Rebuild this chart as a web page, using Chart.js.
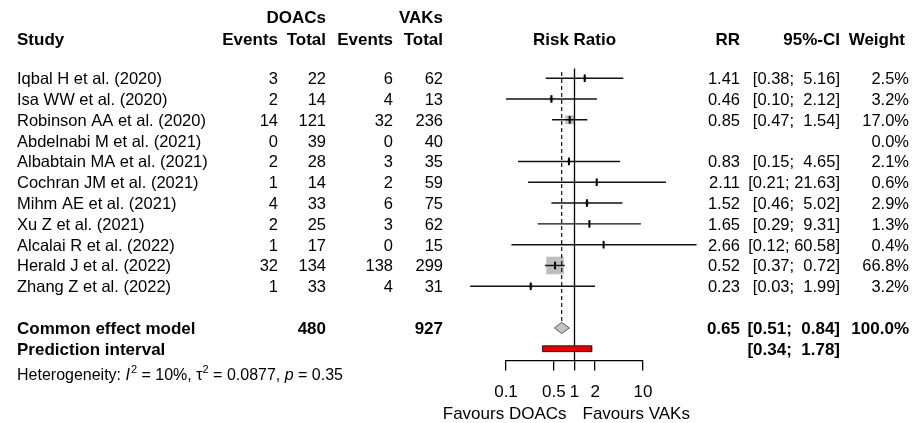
<!DOCTYPE html>
<html>
<head>
<meta charset="utf-8">
<script src="https://cdn.jsdelivr.net/npm/chart.js@4.4.1/dist/chart.umd.min.js"></script>
<style>
  html, body { margin: 0; padding: 0; background: #fff; overflow: hidden; }
  #wrap { width: 912px; height: 423px; position: relative; }
</style>
</head>
<body>
<div id="wrap"><canvas id="forest" width="912" height="423"></canvas></div>
<script>
// Study-level data
const studies = [
  'Iqbal H et al. (2020)', 'Isa WW et al. (2020)', 'Robinson AA et al. (2020)',
  'Abdelnabi M et al. (2021)', 'Albabtain MA et al. (2021)', 'Cochran JM et al. (2021)',
  'Mihm AE et al. (2021)', 'Xu Z et al. (2021)', 'Alcalai R et al. (2022)',
  'Herald J et al. (2022)', 'Zhang Z et al. (2022)'
];
const doacEvents = [3, 2, 14, 0, 2, 1, 4, 2, 1, 32, 1];
const doacTotal  = [22, 14, 121, 39, 28, 14, 33, 25, 17, 134, 33];
const vakEvents  = [6, 4, 32, 0, 3, 2, 6, 3, 0, 138, 4];
const vakTotal   = [62, 13, 236, 40, 35, 59, 75, 62, 15, 299, 31];
const riskRatio  = [1.41, 0.46, 0.85, null, 0.83, 2.11, 1.52, 1.65, 2.66, 0.52, 0.23];
const ciLower    = [0.38, 0.10, 0.47, null, 0.15, 0.21, 0.46, 0.29, 0.12, 0.37, 0.03];
const ciUpper    = [5.16, 2.12, 1.54, null, 4.65, 21.63, 5.02, 9.31, 60.58, 0.72, 1.99];
const weights    = [2.5, 3.2, 17.0, 0.0, 2.1, 0.6, 2.9, 1.3, 0.4, 66.8, 3.2];

// Pooled estimates
const commonRR = [0.65];
const commonCI = [0.51, 0.84];
const commonWeight = [100.0];
const predictionCI = [0.34, 1.78];
const pooledTotals = [480, 927];

// Axis
const tickValues = [0.1, 0.5, 1, 2, 10];
const axisLabels = ['Favours DOACs', 'Favours VAKs'];
const heterogeneity = { i2: '10%', tau2: '0.0877', p: '0.35' };

// Row layout (row index on the y scale)
const ROW_COMMON = 12, ROW_PRED = 13, ROW_HET = 14.25;
const FONT = '"Liberation Sans", Arial, sans-serif';

const fmt2 = v => v.toFixed(2);
const fmtCI = (lo, hi) => '[' + fmt2(lo) + '; ' + fmt2(hi).padStart(5, ' ') + ']';

// CI whiskers, one dataset per study
const ciSets = [];
studies.forEach((s, i) => {
  if (riskRatio[i] == null) return;
  ciSets.push({
    type: 'scatter', showLine: true, order: 1, clip: false,
    data: [{ x: ciLower[i], y: i }, { x: ciUpper[i], y: i }],
    borderColor: '#111', borderWidth: 1.4, pointRadius: 0
  });
});

const idx = studies.map((s, i) => i).filter(i => riskRatio[i] != null);

// weight-scaled squares
const squareSet = {
  type: 'scatter', order: 5, clip: false,
  data: idx.map(i => ({ x: riskRatio[i], y: i })),
  pointStyle: 'rect',
  pointRadius: idx.map(i => 1.52 * Math.sqrt(weights[i])),
  backgroundColor: '#bebebe', borderWidth: 0
};

// point estimate ticks
const estSet = {
  type: 'scatter', order: 0, clip: false,
  data: idx.map(i => ({ x: riskRatio[i], y: i })),
  pointStyle: 'line', pointRotation: 90, pointRadius: 3.8,
  borderColor: '#000', borderWidth: 2
};

// reference lines
const noEffect = {
  type: 'scatter', showLine: true, order: 2, clip: false,
  data: [{ x: 1, y: -0.47 }, { x: 1, y: 13.57 }],
  borderColor: '#000', borderWidth: 1.3, pointRadius: 0
};
const commonLine = {
  type: 'scatter', showLine: true, order: 3, clip: false,
  data: [{ x: commonRR[0], y: -0.3 }, { x: commonRR[0], y: ROW_COMMON - 0.28 }],
  borderColor: '#222', borderWidth: 1.3, borderDash: [4, 3], pointRadius: 0
};

// pooled diamond
const diamond = {
  type: 'scatter', showLine: true, order: 0, clip: false, fill: 'shape',
  data: [
    { x: commonCI[0], y: ROW_COMMON }, { x: commonRR[0], y: ROW_COMMON - 0.27 },
    { x: commonCI[1], y: ROW_COMMON }, { x: commonRR[0], y: ROW_COMMON + 0.27 },
    { x: commonCI[0], y: ROW_COMMON }
  ],
  borderColor: '#555', borderWidth: 1, backgroundColor: '#c4c4c4', pointRadius: 0, tension: 0
};

// prediction interval bar
const predBar = {
  type: 'scatter', showLine: true, order: 0, clip: false, fill: 'shape',
  data: [
    { x: predictionCI[0], y: ROW_PRED - 0.14 }, { x: predictionCI[1], y: ROW_PRED - 0.14 },
    { x: predictionCI[1], y: ROW_PRED + 0.14 }, { x: predictionCI[0], y: ROW_PRED + 0.14 },
    { x: predictionCI[0], y: ROW_PRED - 0.14 }
  ],
  borderColor: '#222', borderWidth: 1, backgroundColor: '#e00000', pointRadius: 0, tension: 0
};

// Column x positions for the table text
const COL = { study: 17, dEv: 278, dTot: 326, vEv: 393, vTot: 443, rr: 740, ci: 840, w: 909 };
const BODY = 16.5, HEAD = 17;

function txt(ctx, s, x, y, align, bold, size, italic) {
  ctx.font = (italic ? 'italic ' : '') + (bold ? 'bold ' : '') + (size || BODY) + 'px ' + FONT;
  ctx.textAlign = align;
  ctx.fillText(s, x, y);
  return ctx.measureText(s).width;
}

const tablePlugin = {
  id: 'tableText',
  afterDraw(chart) {
    const ctx = chart.ctx;
    const ys = chart.scales.y;
    const xs = chart.scales.x;
    const base = r => ys.getPixelForValue(r) + 6;
    ctx.save();
    ctx.fillStyle = '#000';
    ctx.textBaseline = 'alphabetic';

    // headers
    const h1 = base(-2.95), h2 = base(-1.9);
    txt(ctx, 'DOACs', COL.dTot, h1, 'right', true, HEAD);
    txt(ctx, 'VAKs', COL.vTot, h1, 'right', true, HEAD);
    txt(ctx, 'Study', COL.study, h2, 'left', true, HEAD);
    txt(ctx, 'Events', COL.dEv, h2, 'right', true, HEAD);
    txt(ctx, 'Total', COL.dTot, h2, 'right', true, HEAD);
    txt(ctx, 'Events', COL.vEv, h2, 'right', true, HEAD);
    txt(ctx, 'Total', COL.vTot, h2, 'right', true, HEAD);
    txt(ctx, 'Risk Ratio', xs.getPixelForValue(1), h2, 'center', true, HEAD);
    txt(ctx, 'RR', COL.rr, h2, 'right', true, HEAD);
    txt(ctx, '95%-CI', COL.ci, h2, 'right', true, HEAD);
    txt(ctx, 'Weight', COL.w - 4, h2, 'right', true, HEAD);

    // study rows
    studies.forEach((s, i) => {
      const y = base(i);
      txt(ctx, s, COL.study, y, 'left');
      txt(ctx, String(doacEvents[i]), COL.dEv, y, 'right');
      txt(ctx, String(doacTotal[i]), COL.dTot, y, 'right');
      txt(ctx, String(vakEvents[i]), COL.vEv, y, 'right');
      txt(ctx, String(vakTotal[i]), COL.vTot, y, 'right');
      if (riskRatio[i] != null) {
        txt(ctx, fmt2(riskRatio[i]), COL.rr, y, 'right');
        txt(ctx, fmtCI(ciLower[i], ciUpper[i]), COL.ci, y, 'right');
      }
      txt(ctx, weights[i].toFixed(1) + '%', COL.w, y, 'right');
    });

    // pooled rows
    let y = base(ROW_COMMON);
    txt(ctx, 'Common effect model', COL.study, y, 'left', true, HEAD);
    txt(ctx, String(pooledTotals[0]), COL.dTot, y, 'right', true, HEAD);
    txt(ctx, String(pooledTotals[1]), COL.vTot, y, 'right', true, HEAD);
    txt(ctx, fmt2(commonRR[0]), COL.rr, y, 'right', true, HEAD);
    txt(ctx, fmtCI(commonCI[0], commonCI[1]), COL.ci, y, 'right', true, HEAD);
    txt(ctx, commonWeight[0].toFixed(1) + '%', COL.w, y, 'right', true, HEAD);
    y = base(ROW_PRED);
    txt(ctx, 'Prediction interval', COL.study, y, 'left', true, HEAD);
    txt(ctx, fmtCI(predictionCI[0], predictionCI[1]), COL.ci, y, 'right', true, HEAD);

    // heterogeneity line
    y = base(ROW_HET) - 1;
    let x = COL.study;
    const hs = 16, sup = 11;
    x += txt(ctx, 'Heterogeneity: ', x, y, 'left', false, hs);
    x += txt(ctx, 'I', x, y, 'left', false, hs, true) + 1;
    x += txt(ctx, '2', x, y - 7, 'left', false, sup);
    x += txt(ctx, ' = ' + heterogeneity.i2 + ', ', x, y, 'left', false, hs);
    x += txt(ctx, '\u03c4', x, y, 'left', false, hs);
    x += txt(ctx, '2', x, y - 7, 'left', false, sup);
    x += txt(ctx, ' = ' + heterogeneity.tau2 + ', ', x, y, 'left', false, hs);
    x += txt(ctx, 'p', x, y, 'left', false, hs, true);
    txt(ctx, ' = ' + heterogeneity.p, x, y, 'left', false, hs);

    // favours labels
    const x1 = xs.getPixelForValue(1);
    txt(ctx, axisLabels[0], x1 - 8, 419, 'right', false, 17);
    txt(ctx, axisLabels[1], x1 + 8, 419, 'left', false, 17);
    ctx.restore();
  }
};

new Chart(document.getElementById('forest'), {
  type: 'scatter',
  data: { datasets: [estSet, diamond, predBar, noEffect, commonLine, ...ciSets, squareSet] },
  options: {
    responsive: false,
    animation: false,
    events: [],
    layout: { padding: { left: 506, right: 269, top: 5, bottom: 8 } },
    plugins: { legend: { display: false }, tooltip: { enabled: false } },
    scales: {
      x: {
        type: 'logarithmic', min: 0.1, max: 10, position: 'bottom',
        afterBuildTicks: s => { s.ticks = tickValues.map(v => ({ value: v })); },
        ticks: {
          autoSkip: false, maxRotation: 0, color: '#000', padding: 12,
          font: { family: FONT, size: 17 },
          callback: v => String(v)
        },
        grid: { drawOnChartArea: false, drawTicks: true, tickLength: 10, color: '#000', lineWidth: 1.3 },
        border: { display: true, color: '#000', width: 1.3 }
      },
      y: { type: 'linear', reverse: true, min: -3.16, max: 13.57, display: false }
    }
  },
  plugins: [tablePlugin]
});
</script>
</body>
</html>
